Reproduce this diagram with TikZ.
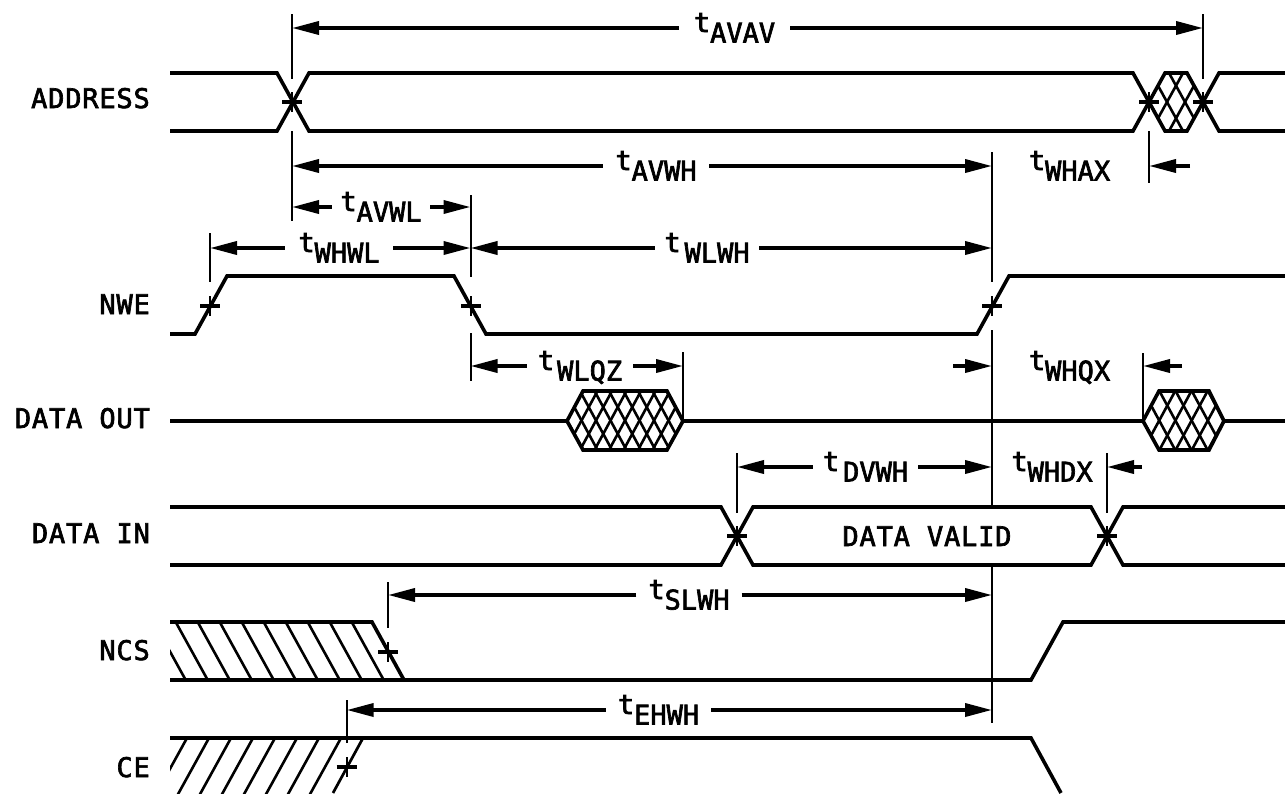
\documentclass[tikz,border=0pt]{standalone}
\usepackage{fontspec}
\usetikzlibrary{arrows.meta}
\newfontfamily\timefont[FakeBold=2.5]{DejaVu Sans Mono}
\newfontfamily\namefont[LetterSpace=3, FakeBold=2.5]{DejaVu Sans Mono}

\begin{document}
\begin{tikzpicture}[x=1pt, y=-1pt, line join=miter]
    \tikzstyle{signal}    = [line width=3.6pt]
    \tikzstyle{edgeline}  = [line width=2.7pt]
    \tikzstyle{extline}   = [line width=2pt]
    \tikzstyle{hatchline} = [line width=2.6pt]
    \tikzstyle{dimarrow}  = [line width=3.6pt, -{Triangle[length=27pt, width=13pt]}]
    \tikzstyle{signame}   = [anchor=base east, inner sep=0pt, font=\namefont\fontsize{27}{27}\selectfont]
    \tikzstyle{timelabel} = [inner xsep=0pt, inner ysep=0pt, text height=8pt, text depth=0pt, align=center, font=\timefont\fontsize{27}{27}\selectfont]

    \useasboundingbox (0,0) rectangle (1285,793);

    % Signal names
    \node [signame] (address) at (150,108) {ADDRESS};
    \node [signame] (nwe)     at (150,314) {NWE};
    \node [signame] (dataout) at (150,428) {DATA OUT};
    \node [signame] (datain)  at (150,543) {DATA IN};
    \node [signame] (ncs)     at (150,660) {NCS};
    \node [signame] (ce)      at (150,777) {CE};
    \node [signame, anchor=base] (valid) at (927,546) {DATA VALID};

    % ADDRESS
    \draw [signal] (170,73) -- (277,73) -- (309,131) -- (1133,131) -- (1165,73) -- (1187,73) -- (1219,131) -- (1285,131);
    \draw [signal] (170,131) -- (277,131) -- (309,73) -- (1133,73) -- (1165,131) -- (1187,131) -- (1219,73) -- (1285,73);
    \begin{scope}
        \clip (1149,102) -- (1165,73) -- (1187,73) -- (1203,102) -- (1187,131) -- (1165,131) -- cycle;
        \foreach \x in {1149,1167,1185,1203} {
            \draw [hatchline] (\x-16,131) -- (\x+16,73);
            \draw [hatchline] (\x-16,73) -- (\x+16,131);
        }
    \end{scope}

    % NWE
    \draw [signal] (170,334) -- (195,334) -- (227,276) -- (454,276) -- (486,334) -- (977,334) -- (1009,276) -- (1285,276);

    % DATA OUT
    \draw [signal] (170,421) -- (567,421);
    \draw [signal] (683,421) -- (1143,421);
    \draw [signal] (1224,421) -- (1285,421);
    \begin{scope}
        \clip (567,421) -- (583,391) -- (667,391) -- (683,421) -- (667,450) -- (583,450) -- cycle;
        \foreach \x in {567,581.5,596,610.5,625,639.5,654,668.5,683} {
            \draw [hatchline] (\x-16,450) -- (\x+16,391);
            \draw [hatchline] (\x-16,391) -- (\x+16,450);
        }
    \end{scope}
    \draw [signal] (567,421) -- (583,391) -- (667,391) -- (683,421) -- (667,450) -- (583,450) -- cycle;
    \begin{scope}
        \clip (1143,421) -- (1159,391) -- (1209,391) -- (1224,421) -- (1209,450) -- (1159,450) -- cycle;
        \foreach \x in {1143,1159.2,1175.4,1191.6,1207.8,1224} {
            \draw [hatchline] (\x-16,450) -- (\x+16,391);
            \draw [hatchline] (\x-16,391) -- (\x+16,450);
        }
    \end{scope}
    \draw [signal] (1143,421) -- (1159,391) -- (1209,391) -- (1224,421) -- (1209,450) -- (1159,450) -- cycle;

    % DATA IN
    \draw [signal] (170,507) -- (721,507) -- (753,565) -- (1091,565) -- (1123,507) -- (1285,507);
    \draw [signal] (170,565) -- (721,565) -- (753,507) -- (1091,507) -- (1123,565) -- (1285,565);

    % NCS
    \begin{scope}
        \clip (170,622) rectangle (404,680);
        \foreach \x in {153.7,175.7,...,352} {
            \draw [hatchline] (\x,622) -- (\x+32,680);
        }
    \end{scope}
    \draw [signal] (170,622) -- (372,622) -- (404,680);
    \draw [signal] (170,680) -- (1031,680) -- (1063,622) -- (1285,622);

    % CE
    \begin{scope}
        \clip (170,738) rectangle (364,793);
        \foreach \x in {187,209,...,342} {
            \draw [hatchline] (\x,738) -- (\x-32,796);
        }
    \end{scope}
    \draw [signal] (170,738) -- (1031,738) -- (1061,793);
    \draw [edgeline] (363,738) -- (333,793);

    % Extension lines
    \draw [extline] (292,14) -- (292,79);
    \draw [extline] (292,131) -- (292,221);
    \draw [extline] (1203,14) -- (1203,79);
    \draw [extline] (1149,131) -- (1149,183);
    \draw [extline] (210,233) -- (210,282);
    \draw [extline] (470.5,195) -- (470.5,277);
    \draw [extline] (470.5,333) -- (470.5,381);
    \draw [extline] (992,152) -- (992,282);
    \draw [extline] (992,330) -- (992,505);
    \draw [extline] (992,567) -- (992,723);
    \draw [extline] (683,352) -- (683,420);
    \draw [extline] (1143,353) -- (1143,420);
    \draw [extline] (737,453) -- (737,513);
    \draw [extline] (1107,453) -- (1107,513);
    \draw [extline] (388,582) -- (388,628);
    \draw [extline] (346.7,700) -- (346.7,743);

    % Crossing marks
    \foreach \x/\y in {292/102,1149/102,1203/102,210/306,471/306,992/306,737/536,1107/536,388/652,346.7/767} {
        \draw [signal] (\x-10,\y) -- (\x+10,\y);
        \draw [extline] (\x,\y-10) -- (\x,\y+10);
    }

    % Time labels
    \node [timelabel, minimum width=111pt] (avav) at (734.5,28) {t\smash{\raisebox{-10.5pt}{AVAV}}};
    \node [timelabel, minimum width=106pt] (avwh) at (656,166) {t\smash{\raisebox{-10.5pt}{AVWH}}};
    \node [timelabel, minimum width=98pt]  (avwl) at (381,207) {t\smash{\raisebox{-10.5pt}{AVWL}}};
    \node [timelabel, minimum width=108pt] (whwl) at (339,248) {t\smash{\raisebox{-10.5pt}{WHWL}}};
    \node [timelabel, minimum width=104pt] (wlwh) at (707,248) {t\hspace{4pt}\smash{\raisebox{-10.5pt}{WLWH}}};
    \node [timelabel, minimum width=106pt] (wlqz) at (580,366) {t\hspace{3pt}\smash{\raisebox{-10.5pt}{WLQZ}}};
    \node [timelabel, minimum width=105pt] (dvwh) at (865.5,467) {t\hspace{4pt}\smash{\raisebox{-10.5pt}{DVWH}}};
    \node [timelabel, minimum width=105pt] (slwh) at (689,595) {t\smash{\raisebox{-10.5pt}{SLWH}}};
    \node [timelabel, minimum width=105pt] (ehwh) at (658.5,710) {t\smash{\raisebox{-10.5pt}{EHWH}}};
    \node [timelabel] (whax) at (1069.5,166) {t\smash{\raisebox{-10.5pt}{WHAX}}};
    \node [timelabel] (whqx) at (1069.5,366) {t\smash{\raisebox{-10.5pt}{WHQX}}};
    \node [timelabel] (whdx) at (1052,467) {t\smash{\raisebox{-10.5pt}{WHDX}}};

    % Ends of the dimension arrows
    \coordinate (avavl) at (292,28);
    \coordinate (avavr) at (1203,28);
    \coordinate (avwhl) at (292,166);
    \coordinate (avwhr) at (992,166);
    \coordinate (avwll) at (292,207);
    \coordinate (avwlr) at (470.5,207);
    \coordinate (whwll) at (210,248);
    \coordinate (whwlr) at (470.5,248);
    \coordinate (wlwhl) at (470.5,248);
    \coordinate (wlwhr) at (992,248);
    \coordinate (wlqzl) at (470.5,366);
    \coordinate (wlqzr) at (683,366);
    \coordinate (dvwhl) at (737,467);
    \coordinate (dvwhr) at (992,467);
    \coordinate (slwhl) at (388,595);
    \coordinate (slwhr) at (992,595);
    \coordinate (ehwhl) at (346.7,710);
    \coordinate (ehwhr) at (992,710);
    \coordinate (whaxs) at (1190,166);
    \coordinate (whaxe) at (1149,166);
    \coordinate (whqxa) at (953,366);
    \coordinate (whqxb) at (992,366);
    \coordinate (whqxs) at (1182,366);
    \coordinate (whqxe) at (1143,366);
    \coordinate (whdxs) at (1142,467);
    \coordinate (whdxe) at (1107,467);

    % Dimension arrows
    \draw [dimarrow] (avav.west) -- (avavl);
    \draw [dimarrow] (avav.east) -- (avavr);
    \draw [dimarrow] (avwh.west) -- (avwhl);
    \draw [dimarrow] (avwh.east) -- (avwhr);
    \draw [dimarrow] (avwl.west) -- (avwll);
    \draw [dimarrow] (avwl.east) -- (avwlr);
    \draw [dimarrow] (whwl.west) -- (whwll);
    \draw [dimarrow] (whwl.east) -- (whwlr);
    \draw [dimarrow] (wlwh.west) -- (wlwhl);
    \draw [dimarrow] (wlwh.east) -- (wlwhr);
    \draw [dimarrow] (wlqz.west) -- (wlqzl);
    \draw [dimarrow] (wlqz.east) -- (wlqzr);
    \draw [dimarrow] (dvwh.west) -- (dvwhl);
    \draw [dimarrow] (dvwh.east) -- (dvwhr);
    \draw [dimarrow] (slwh.west) -- (slwhl);
    \draw [dimarrow] (slwh.east) -- (slwhr);
    \draw [dimarrow] (ehwh.west) -- (ehwhl);
    \draw [dimarrow] (ehwh.east) -- (ehwhr);
    \draw [dimarrow] (whaxs) -- (whaxe);
    \draw [dimarrow] (whqxa) -- (whqxb);
    \draw [dimarrow] (whqxs) -- (whqxe);
    \draw [dimarrow] (whdxs) -- (whdxe);
\end{tikzpicture}
\end{document}
